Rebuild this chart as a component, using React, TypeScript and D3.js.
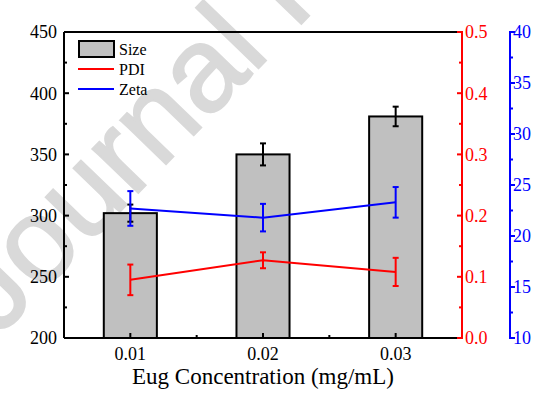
import React from 'react';
import * as d3 from 'd3';

// values
const concentrations = [0.01, 0.02, 0.03];
const sizeValues = [302, 350, 381];
const sizeErrors = [7, 9, 8];
const pdiValues = [0.095, 0.127, 0.108];
const pdiErrors = [0.025, 0.013, 0.023];
const zetaValues = [22.7, 21.8, 23.3];
const zetaErrors = [1.7, 1.35, 1.5];

const sizeTicks = [200, 250, 300, 350, 400, 450];
const pdiTicks = [0, 0.1, 0.2, 0.3, 0.4, 0.5];
const zetaTicks = [10, 15, 20, 25, 30, 35, 40];

const W = 554;
const H = 398;
const margin = { top: 32, right: 92, bottom: 60, left: 64 };
const serif = { fontFamily: "'Liberation Serif', 'Times New Roman', 'DejaVu Serif', serif" };

const App = () => {
  const x0 = margin.left;
  const x1 = W - margin.right;
  const y0 = H - margin.bottom;
  const y1 = margin.top;
  const blueX = 510;

  const x = d3.scaleLinear().domain([0.005, 0.035]).range([x0, x1]);
  const ySize = d3.scaleLinear().domain([200, 450]).range([y0, y1]);
  const yPdi = d3.scaleLinear().domain([0, 0.5]).range([y0, y1]);
  const yZeta = d3.scaleLinear().domain([10, 40]).range([y0, y1]);

  const barW = x(0.014) - x(0.01);
  const cap = 3;

  const line = (yScale: d3.ScaleLinear<number, number>, vals: number[]) =>
    d3.line<number>()
      .x((_, i) => x(concentrations[i]))
      .y((d) => yScale(d))(vals) as string;

  const minors = (ticks: number[]) =>
    ticks.slice(0, -1).map((t, i) => (t + ticks[i + 1]) / 2);

  const errorBars = (
    yScale: d3.ScaleLinear<number, number>,
    vals: number[],
    errs: number[],
    color: string
  ) =>
    vals.map((v, i) => {
      const cx = x(concentrations[i]);
      const top = yScale(v + errs[i]);
      const bot = yScale(v - errs[i]);
      return (
        <g key={i} stroke={color} strokeWidth={2}>
          <line x1={cx} x2={cx} y1={top} y2={bot} />
          <line x1={cx - cap} x2={cx + cap} y1={top} y2={top} />
          <line x1={cx - cap} x2={cx + cap} y1={bot} y2={bot} />
        </g>
      );
    });

  return (
    <svg width={W} height={H} style={{ position: 'absolute', left: 0, top: 0 }}>
      <rect width={W} height={H} fill="#fff" />
      {/* watermark */}
      <text
        transform="translate(-2, 338) rotate(-46)"
        style={{ fontFamily: "'Liberation Sans', Arial, sans-serif" }}
        fontSize={120}
        fill="#d9d9d9"
        stroke="#d9d9d9"
        strokeWidth={2}
      >
        Journal P
      </text>

      {/* bars */}
      {sizeValues.map((v, i) => (
        <rect
          key={i}
          x={x(concentrations[i]) - barW / 2}
          y={ySize(v)}
          width={barW}
          height={y0 - ySize(v)}
          fill="#c0c0c0"
          stroke="#000"
          strokeWidth={2}
        />
      ))}
      {errorBars(ySize, sizeValues, sizeErrors, '#000')}

      {/* PDI */}
      <path d={line(yPdi, pdiValues)} fill="none" stroke="#ff0000" strokeWidth={2} />
      {errorBars(yPdi, pdiValues, pdiErrors, '#ff0000')}

      {/* Zeta */}
      <path d={line(yZeta, zetaValues)} fill="none" stroke="#0000ff" strokeWidth={2} />
      {errorBars(yZeta, zetaValues, zetaErrors, '#0000ff')}

      {/* frame */}
      <line x1={x0} x2={x1} y1={y1} y2={y1} stroke="#000" strokeWidth={2} />
      <line x1={x0} x2={x1} y1={y0} y2={y0} stroke="#000" strokeWidth={2} />
      <line x1={x0} x2={x0} y1={y1} y2={y0} stroke="#000" strokeWidth={2} />
      <line x1={x1} x2={x1} y1={y1 - 1} y2={y0 + 1} stroke="#ff0000" strokeWidth={2} />
      <line x1={blueX} x2={blueX} y1={y1 - 1} y2={y0 + 1} stroke="#0000ff" strokeWidth={2} />

      {/* left axis */}
      {sizeTicks.map((t) => (
        <g key={t}>
          <line x1={x0} x2={x0 + 5} y1={ySize(t)} y2={ySize(t)} stroke="#000" strokeWidth={2} />
          <text x={x0 - 7} y={ySize(t)} dy="0.35em" textAnchor="end" style={serif} fontSize={18}>
            {t}
          </text>
        </g>
      ))}
      {minors(sizeTicks).map((t) => (
        <line key={t} x1={x0} x2={x0 + 3} y1={ySize(t)} y2={ySize(t)} stroke="#000" strokeWidth={2} />
      ))}

      {/* bottom axis */}
      {concentrations.map((c) => (
        <g key={c}>
          <line x1={x(c)} x2={x(c)} y1={y0} y2={y0 - 5} stroke="#000" strokeWidth={2} />
          <text x={x(c)} y={360} textAnchor="middle" style={serif} fontSize={18}>
            {c.toFixed(2)}
          </text>
        </g>
      ))}
      {minors(concentrations).map((c) => (
        <line key={c} x1={x(c)} x2={x(c)} y1={y0} y2={y0 - 3} stroke="#000" strokeWidth={2} />
      ))}
      <text x={(x0 + x1) / 2} y={384} textAnchor="middle" style={serif} fontSize={23}>
        Eug Concentration (mg/mL)
      </text>

      {/* PDI axis */}
      {pdiTicks.map((t) => (
        <g key={t}>
          <line x1={x1} x2={x1 - 5} y1={yPdi(t)} y2={yPdi(t)} stroke="#ff0000" strokeWidth={2} />
          <text x={x1 + 3} y={yPdi(t)} dy="0.35em" style={serif} fontSize={18} fill="#ff0000">
            {t.toFixed(1)}
          </text>
        </g>
      ))}
      {minors(pdiTicks).map((t) => (
        <line key={t} x1={x1} x2={x1 - 3} y1={yPdi(t)} y2={yPdi(t)} stroke="#ff0000" strokeWidth={2} />
      ))}

      {/* Zeta axis */}
      {zetaTicks.map((t) => (
        <g key={t}>
          <line x1={blueX} x2={blueX + 5} y1={yZeta(t)} y2={yZeta(t)} stroke="#0000ff" strokeWidth={2} />
          <text x={blueX + 3} y={yZeta(t)} dy="0.35em" style={serif} fontSize={18} fill="#0000ff">
            {t}
          </text>
        </g>
      ))}
      {minors(zetaTicks).map((t) => (
        <line key={t} x1={blueX} x2={blueX + 3} y1={yZeta(t)} y2={yZeta(t)} stroke="#0000ff" strokeWidth={2} />
      ))}

      {/* legend */}
      <g style={serif} fontSize={16}>
        <rect x={79} y={41} width={35} height={16} fill="#c0c0c0" stroke="#000" strokeWidth={2} />
        <text x={119} y={55}>Size</text>
        <line x1={78} x2={114} y1={69} y2={69} stroke="#ff0000" strokeWidth={2} />
        <text x={119} y={75}>PDI</text>
        <line x1={78} x2={114} y1={89} y2={89} stroke="#0000ff" strokeWidth={2} />
        <text x={119} y={95}>Zeta</text>
      </g>
    </svg>
  );
};

export default App;
